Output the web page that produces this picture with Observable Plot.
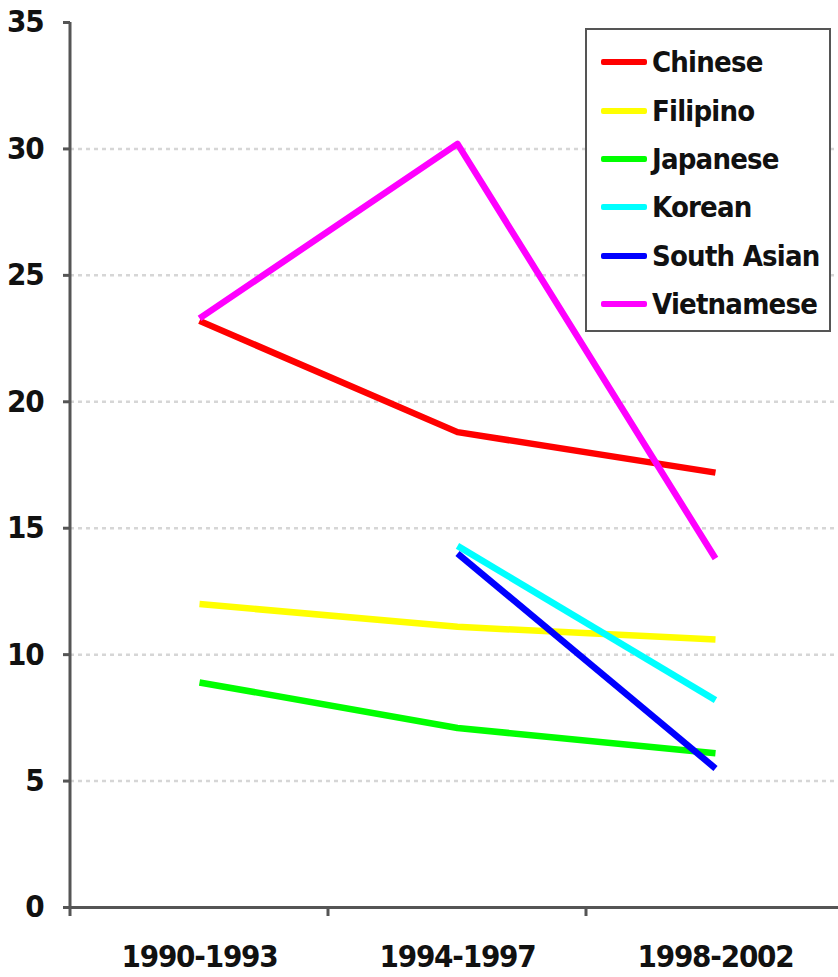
<!DOCTYPE html>
<html>
<head>
<meta charset="utf-8">
<script src="https://cdn.jsdelivr.net/npm/d3@7"></script>
<script src="https://cdn.jsdelivr.net/npm/@observablehq/plot@0.6"></script>
<style>
  html, body { margin: 0; padding: 0; background: #fff; }
  #wrap { position: relative; width: 838px; height: 977px; overflow: hidden; }
  .lbl { font-family: "DejaVu Sans", sans-serif; font-stretch: condensed; font-weight: bold; white-space: nowrap; }
  #legend {
    position: absolute; left: 585px; top: 28px; width: 242px; height: 292px;
    border: 2px solid #555; background: #fff; box-sizing: content-box;
    padding-top: 8px;
  }
  .row { display: flex; align-items: center; height: 48.4px; padding-left: 14px; }
  .sw { width: 46px; height: 6px; margin-right: 5px; border-radius: 2px; flex: none; }
  .row span { font-size: 29px; color: #111; display: inline-block; letter-spacing: -0.8px; }
  svg text { font-stretch: condensed; letter-spacing: -1.2px; }
</style>
</head>
<body>
<div id="wrap"></div>
<script>
const periods = ["1990-1993", "1994-1997", "1998-2002"];
const groups = ["Chinese", "Filipino", "Japanese", "Korean", "South Asian", "Vietnamese"];
const colors = ["#ff0000", "#ffff00", "#00ff00", "#00ffff", "#0000ff", "#ff00ff"];
const chinese    = [23.2, 18.8, 17.2];
const filipino   = [12.0, 11.1, 10.6];
const japanese   = [8.9, 7.1, 6.1];
const korean     = [null, 14.3, 8.2];
const southAsian = [null, 14.0, 5.5];
const vietnamese = [23.3, 30.2, 13.8];
const yTicks = [0, 5, 10, 15, 20, 25, 30, 35];

const seriesValues = [chinese, filipino, japanese, korean, southAsian, vietnamese];
const rows = [];
groups.forEach((g, gi) => {
  seriesValues[gi].forEach((v, pi) => {
    if (v != null) rows.push({group: g, period: periods[pi], value: v});
  });
});

const font = '"DejaVu Sans", sans-serif';

const chart = Plot.plot({
  width: 838,
  height: 977,
  marginLeft: 70,
  marginTop: 22,
  marginBottom: 70,
  marginRight: 0,
  style: {fontFamily: font, fontWeight: "bold", background: "#fff", overflow: "visible"},
  x: {type: "point", domain: periods, range: [70, 844], padding: 0.5, label: null},
  y: {domain: [0, 35], label: null},
  color: {domain: groups, range: colors},
  marks: [
    Plot.ruleY(yTicks.slice(1, -1), {stroke: "#d6d6d6", strokeWidth: 2.5, strokeDasharray: "4 4"}),
    Plot.ruleY([yTicks[yTicks.length - 1]], {x1: 62, x2: 844, stroke: "#333", strokeWidth: 3}),
    Plot.axisY({ticks: yTicks, tickSize: 7, tickPadding: 20, fontSize: 31, fontWeight: "bold", stroke: "#555", strokeWidth: 3, tickFormat: d => String(d), color: "#111"}),
    Plot.axisX({tickSize: 0, tickPadding: 37, fontSize: 31, fontWeight: "bold", color: "#111"}),
    // band boundary ticks, derived from the x scale
    (index, scales, values, dims) => {
      const sx = scales.x;
      const pos = periods.map(p => sx(p));
      const step = pos[1] - pos[0];
      const bounds = [pos[0] - step / 2, ...pos.slice(0, -1).map((p, i) => (p + pos[i + 1]) / 2), pos[pos.length - 1] + step / 2];
      const y0 = scales.y(0);
      const g = d3.create("svg:g");
      g.selectAll("line").data(bounds.slice(1)).join("line")
        .attr("x1", d => d).attr("x2", d => d)
        .attr("y1", y0).attr("y2", y0 + 9)
        .attr("stroke", "#555").attr("stroke-width", 3);
      return g.node();
    },
    Plot.ruleY([0], {stroke: "#555", strokeWidth: 3}),
    Plot.line(rows, {x: "period", y: "value", z: "group", stroke: "group", strokeWidth: 6.5, strokeLinejoin: "round", strokeLinecap: "butt"})
  ]
});

const wrap = document.getElementById("wrap");
wrap.appendChild(chart);
const svg = d3.select(chart);
// left axis line
svg.append("line")
  .attr("x1", 70).attr("x2", 70)
  .attr("y1", 22).attr("y2", 907 + 9)
  .attr("stroke", "#555").attr("stroke-width", 3);

// legend
const legend = document.createElement("div");
legend.id = "legend";
groups.forEach((g, i) => {
  const r = document.createElement("div");
  r.className = "row";
  const s = document.createElement("div");
  s.className = "sw";
  s.style.background = colors[i];
  const t = document.createElement("span");
  t.className = "lbl";
  t.textContent = g;
  r.appendChild(s); r.appendChild(t);
  legend.appendChild(r);
});
wrap.appendChild(legend);
</script>
</body>
</html>
